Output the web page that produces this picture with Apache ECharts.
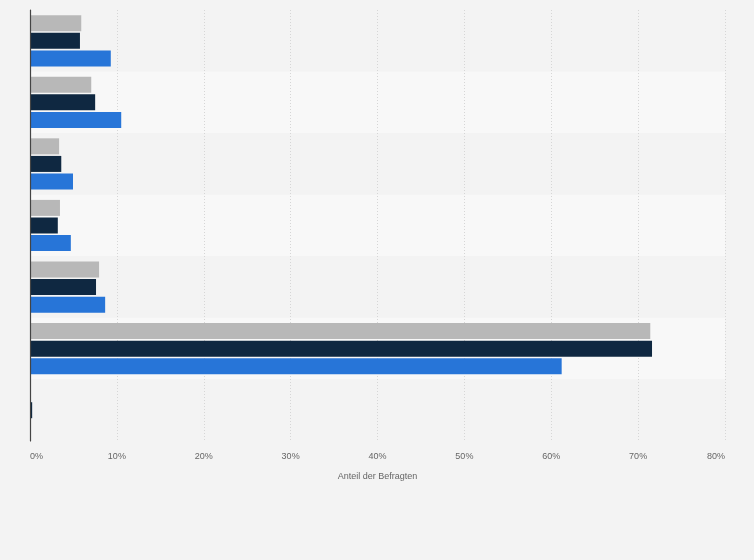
<!DOCTYPE html>
<html lang="de" style="height: 100%">
  <head>
    <meta charset="utf-8" />
  </head>
  <body style="height: 100%; margin: 0; overflow: hidden; background: #f3f3f3">
    <div id="container" style="height: 100%"></div>
    <script type="text/javascript" src="https://cdn.jsdelivr.net/npm/echarts@6/dist/echarts.min.js"></script>
    <script type="text/javascript">
      const categories = ['Kategorie 1', 'Kategorie 2', 'Kategorie 3', 'Kategorie 4', 'Kategorie 5', 'Kategorie 6', 'Kategorie 7']
      const seriesNames = ['Reihe 1', 'Reihe 2', 'Reihe 3']
      const grayValues = [5.9, 7.05, 3.35, 3.45, 7.95, 71.4, 0.1]
      const navyValues = [5.75, 7.5, 3.6, 3.2, 7.6, 71.6, 0.25]
      const blueValues = [9.3, 10.5, 4.95, 4.7, 8.65, 61.2, 0]
      const xTicks = [0, 10, 20, 30, 40, 50, 60, 70, 80]
      const colors = ['#b8b8b8', '#0f2841', '#2775d8']

      const dom = document.getElementById('container')
      const myChart = echarts.init(dom, null, { renderer: 'canvas' })

      const series = [grayValues, navyValues, blueValues].map((values, i) => ({
        name: seriesNames[i],
        type: 'bar',
        data: values,
        barWidth: 16,
        barGap: '10%',
        itemStyle: { color: colors[i] },
      }))

      const option = {
        backgroundColor: '#f3f3f3',
        animation: false,
        grid: { left: 30, right: 29, top: 10, bottom: 119, containLabel: false },
        xAxis: {
          type: 'value',
          min: xTicks[0],
          max: xTicks[xTicks.length - 1],
          interval: 10,
          name: 'Anteil der Befragten',
          nameLocation: 'middle',
          nameGap: 31,
          nameTextStyle: { color: '#666', fontSize: 9, fontFamily: 'Arial, Liberation Sans' },
          axisLine: { show: false },
          axisTick: { show: false },
          axisLabel: {
            color: '#666',
            fontSize: 9,
            fontFamily: 'Arial, Liberation Sans',
            margin: 11,
            alignMinLabel: 'left',
            alignMaxLabel: 'right',
            formatter: '{value}%',
          },
          splitLine: { lineStyle: { color: '#d6d6d6', type: [1, 2], width: 1 } },
        },
        yAxis: [
          {
            type: 'category',
            data: categories,
            inverse: true,
            axisLine: { show: false },
            axisTick: { show: false },
            axisLabel: { show: false },
            splitLine: { show: false },
            splitArea: { show: true, areaStyle: { color: ['#f3f3f3', '#f8f8f8'] } },
          },
          {
            // only draws the left axis line above the bars
            type: 'category',
            data: categories,
            inverse: true,
            position: 'left',
            z: 5,
            axisLine: { show: true, lineStyle: { color: '#444', width: 1.2 } },
            axisTick: { show: false },
            axisLabel: { show: false },
            splitLine: { show: false },
            splitArea: { show: false },
          },
        ],
        series: series,
      }

      myChart.setOption(option)
      window.addEventListener('resize', myChart.resize)
    </script>
  </body>
</html>
